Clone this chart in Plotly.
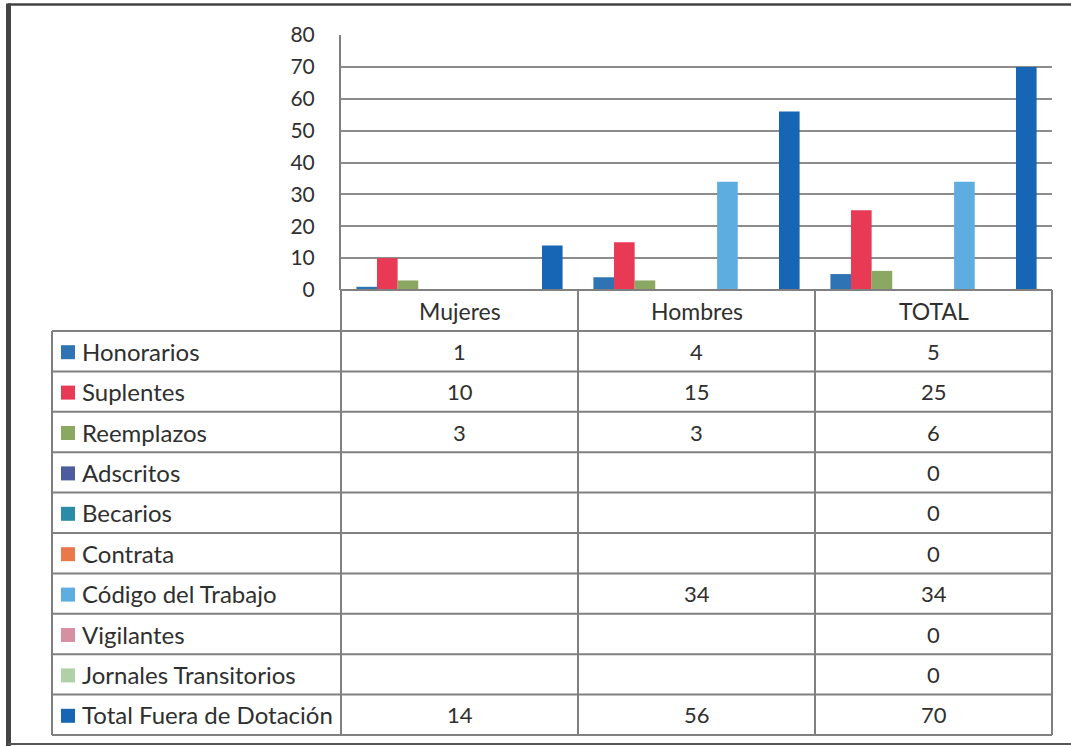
import plotly.graph_objects as go

# ---- data -------------------------------------------------------------
categorias = ["Mujeres", "Hombres", "TOTAL"]

series = [
    "Honorarios",
    "Suplentes",
    "Reemplazos",
    "Adscritos",
    "Becarios",
    "Contrata",
    "Código del Trabajo",
    "Vigilantes",
    "Jornales Transitorios",
    "Total Fuera de Dotación",
]

honorarios = [1, 4, 5]
suplentes = [10, 15, 25]
reemplazos = [3, 3, 6]
adscritos = [None, None, 0]
becarios = [None, None, 0]
contrata = [None, None, 0]
codigo_trabajo = [None, 34, 34]
vigilantes = [None, None, 0]
jornales_transitorios = [None, None, 0]
total_fuera_dotacion = [14, 56, 70]

valores = [
    honorarios, suplentes, reemplazos, adscritos, becarios,
    contrata, codigo_trabajo, vigilantes, jornales_transitorios,
    total_fuera_dotacion,
]

y_ticks = [0, 10, 20, 30, 40, 50, 60, 70, 80]

# ---- styling ----------------------------------------------------------
colores = [
    "#2e74b5",  # Honorarios
    "#e83a55",  # Suplentes
    "#8aa862",  # Reemplazos
    "#4d5c9e",  # Adscritos
    "#2b8ca8",  # Becarios
    "#e9794b",  # Contrata
    "#5dade0",  # Código del Trabajo
    "#d690a2",  # Vigilantes
    "#afd0a8",  # Jornales Transitorios
    "#1766b5",  # Total Fuera de Dotación
]

W, H = 1071, 746
FONT = "Lato"
TXT = "#2f2f2f"
GRID = "#8c8c8c"
LINE = "#808080"

SIZE_NAME = 24
SIZE_HEAD = 23
SIZE_VAL = 22
SIZE_TICK = 21

# pixel layout of plot area and data table
PLOT_L, PLOT_R = 341, 1052
PLOT_T, PLOT_B = 35, 290
TABLE_L = 52
COL_X = [341, 578, 815, 1052]
HEADER_B = 331
ROW_H = 40.4


def px(x):
    return x / W


def py(y):
    return 1 - y / H


fig = go.Figure()

for nombre, vals, col in zip(series, valores, colores):
    fig.add_trace(go.Bar(
        name=nombre, x=categorias, y=vals,
        marker=dict(color=col, line=dict(width=0)),
        showlegend=False, hoverinfo="x+y+name",
    ))

shapes = []
annotations = []


def hline(x0, x1, y, color=LINE, width=2):
    shapes.append(dict(type="line", xref="paper", yref="paper",
                       x0=px(x0), x1=px(x1), y0=py(y), y1=py(y),
                       line=dict(color=color, width=width)))


def vline(x, y0, y1, color=LINE, width=2):
    shapes.append(dict(type="line", xref="paper", yref="paper",
                       x0=px(x), x1=px(x), y0=py(y0), y1=py(y1),
                       line=dict(color=color, width=width)))


def text(x, y, s, size, anchor="center"):
    annotations.append(dict(xref="paper", yref="paper", x=px(x), y=py(y),
                            text=s, showarrow=False, xanchor=anchor,
                            yanchor="middle",
                            font=dict(family=FONT, size=size, color=TXT)))


# table rows
n_rows = len(series)
table_b = HEADER_B + n_rows * ROW_H

# header row (category names)
hline(PLOT_L, PLOT_R, PLOT_B)
for c in COL_X:
    vline(c, PLOT_B, table_b)
for i, cat in enumerate(categorias):
    text((COL_X[i] + COL_X[i + 1]) / 2, (PLOT_B + HEADER_B) / 2, cat,
         SIZE_HEAD)

# series rows
for r in range(n_rows + 1):
    hline(TABLE_L, PLOT_R, HEADER_B + r * ROW_H)
vline(TABLE_L, HEADER_B, table_b)

for r, (nombre, vals, col) in enumerate(zip(series, valores, colores)):
    yc = HEADER_B + r * ROW_H + ROW_H / 2
    shapes.append(dict(type="rect", xref="paper", yref="paper",
                       x0=px(61), x1=px(75), y0=py(yc - 6), y1=py(yc + 8),
                       fillcolor=col, line=dict(width=0)))
    text(80, yc, nombre, SIZE_NAME, anchor="left")
    for i, v in enumerate(vals):
        if v is not None:
            text((COL_X[i] + COL_X[i + 1]) / 2, yc, str(v), SIZE_VAL)

# outer frame
shapes.append(dict(type="line", xref="paper", yref="paper",
                   x0=px(8), x1=1, y0=py(4.5), y1=py(4.5),
                   line=dict(color="#444444", width=2.5)))
shapes.append(dict(type="line", xref="paper", yref="paper",
                   x0=px(8.5), x1=px(8.5), y0=py(3.5), y1=0,
                   line=dict(color="#444444", width=5)))
shapes.append(dict(type="line", xref="paper", yref="paper",
                   x0=px(8), x1=1, y0=py(744), y1=py(744),
                   line=dict(color="#555555", width=2)))

fig.update_layout(
    width=W, height=H,
    margin=dict(l=0, r=0, t=0, b=0, autoexpand=False),
    paper_bgcolor="white", plot_bgcolor="white",
    barmode="group", bargap=0.13, bargroupgap=0,
    font=dict(family=FONT, color=TXT),
    xaxis=dict(domain=[px(PLOT_L), px(PLOT_R)], range=[-0.5, 2.5],
               showticklabels=False, showgrid=False, zeroline=False,
               showline=False, fixedrange=True, automargin=False),
    yaxis=dict(domain=[py(PLOT_B), py(PLOT_T)], range=[0, 80],
               tickvals=y_ticks, showgrid=True, gridcolor=GRID,
               gridwidth=1.5, zeroline=False, showline=True,
               linecolor=LINE, linewidth=2,
               ticks="outside", ticklen=20, tickcolor="rgba(0,0,0,0)",
               tickfont=dict(family=FONT, size=SIZE_TICK, color=TXT),
               fixedrange=True, automargin=False),
    shapes=shapes,
    annotations=annotations,
)

fig.write_html("out.html")
